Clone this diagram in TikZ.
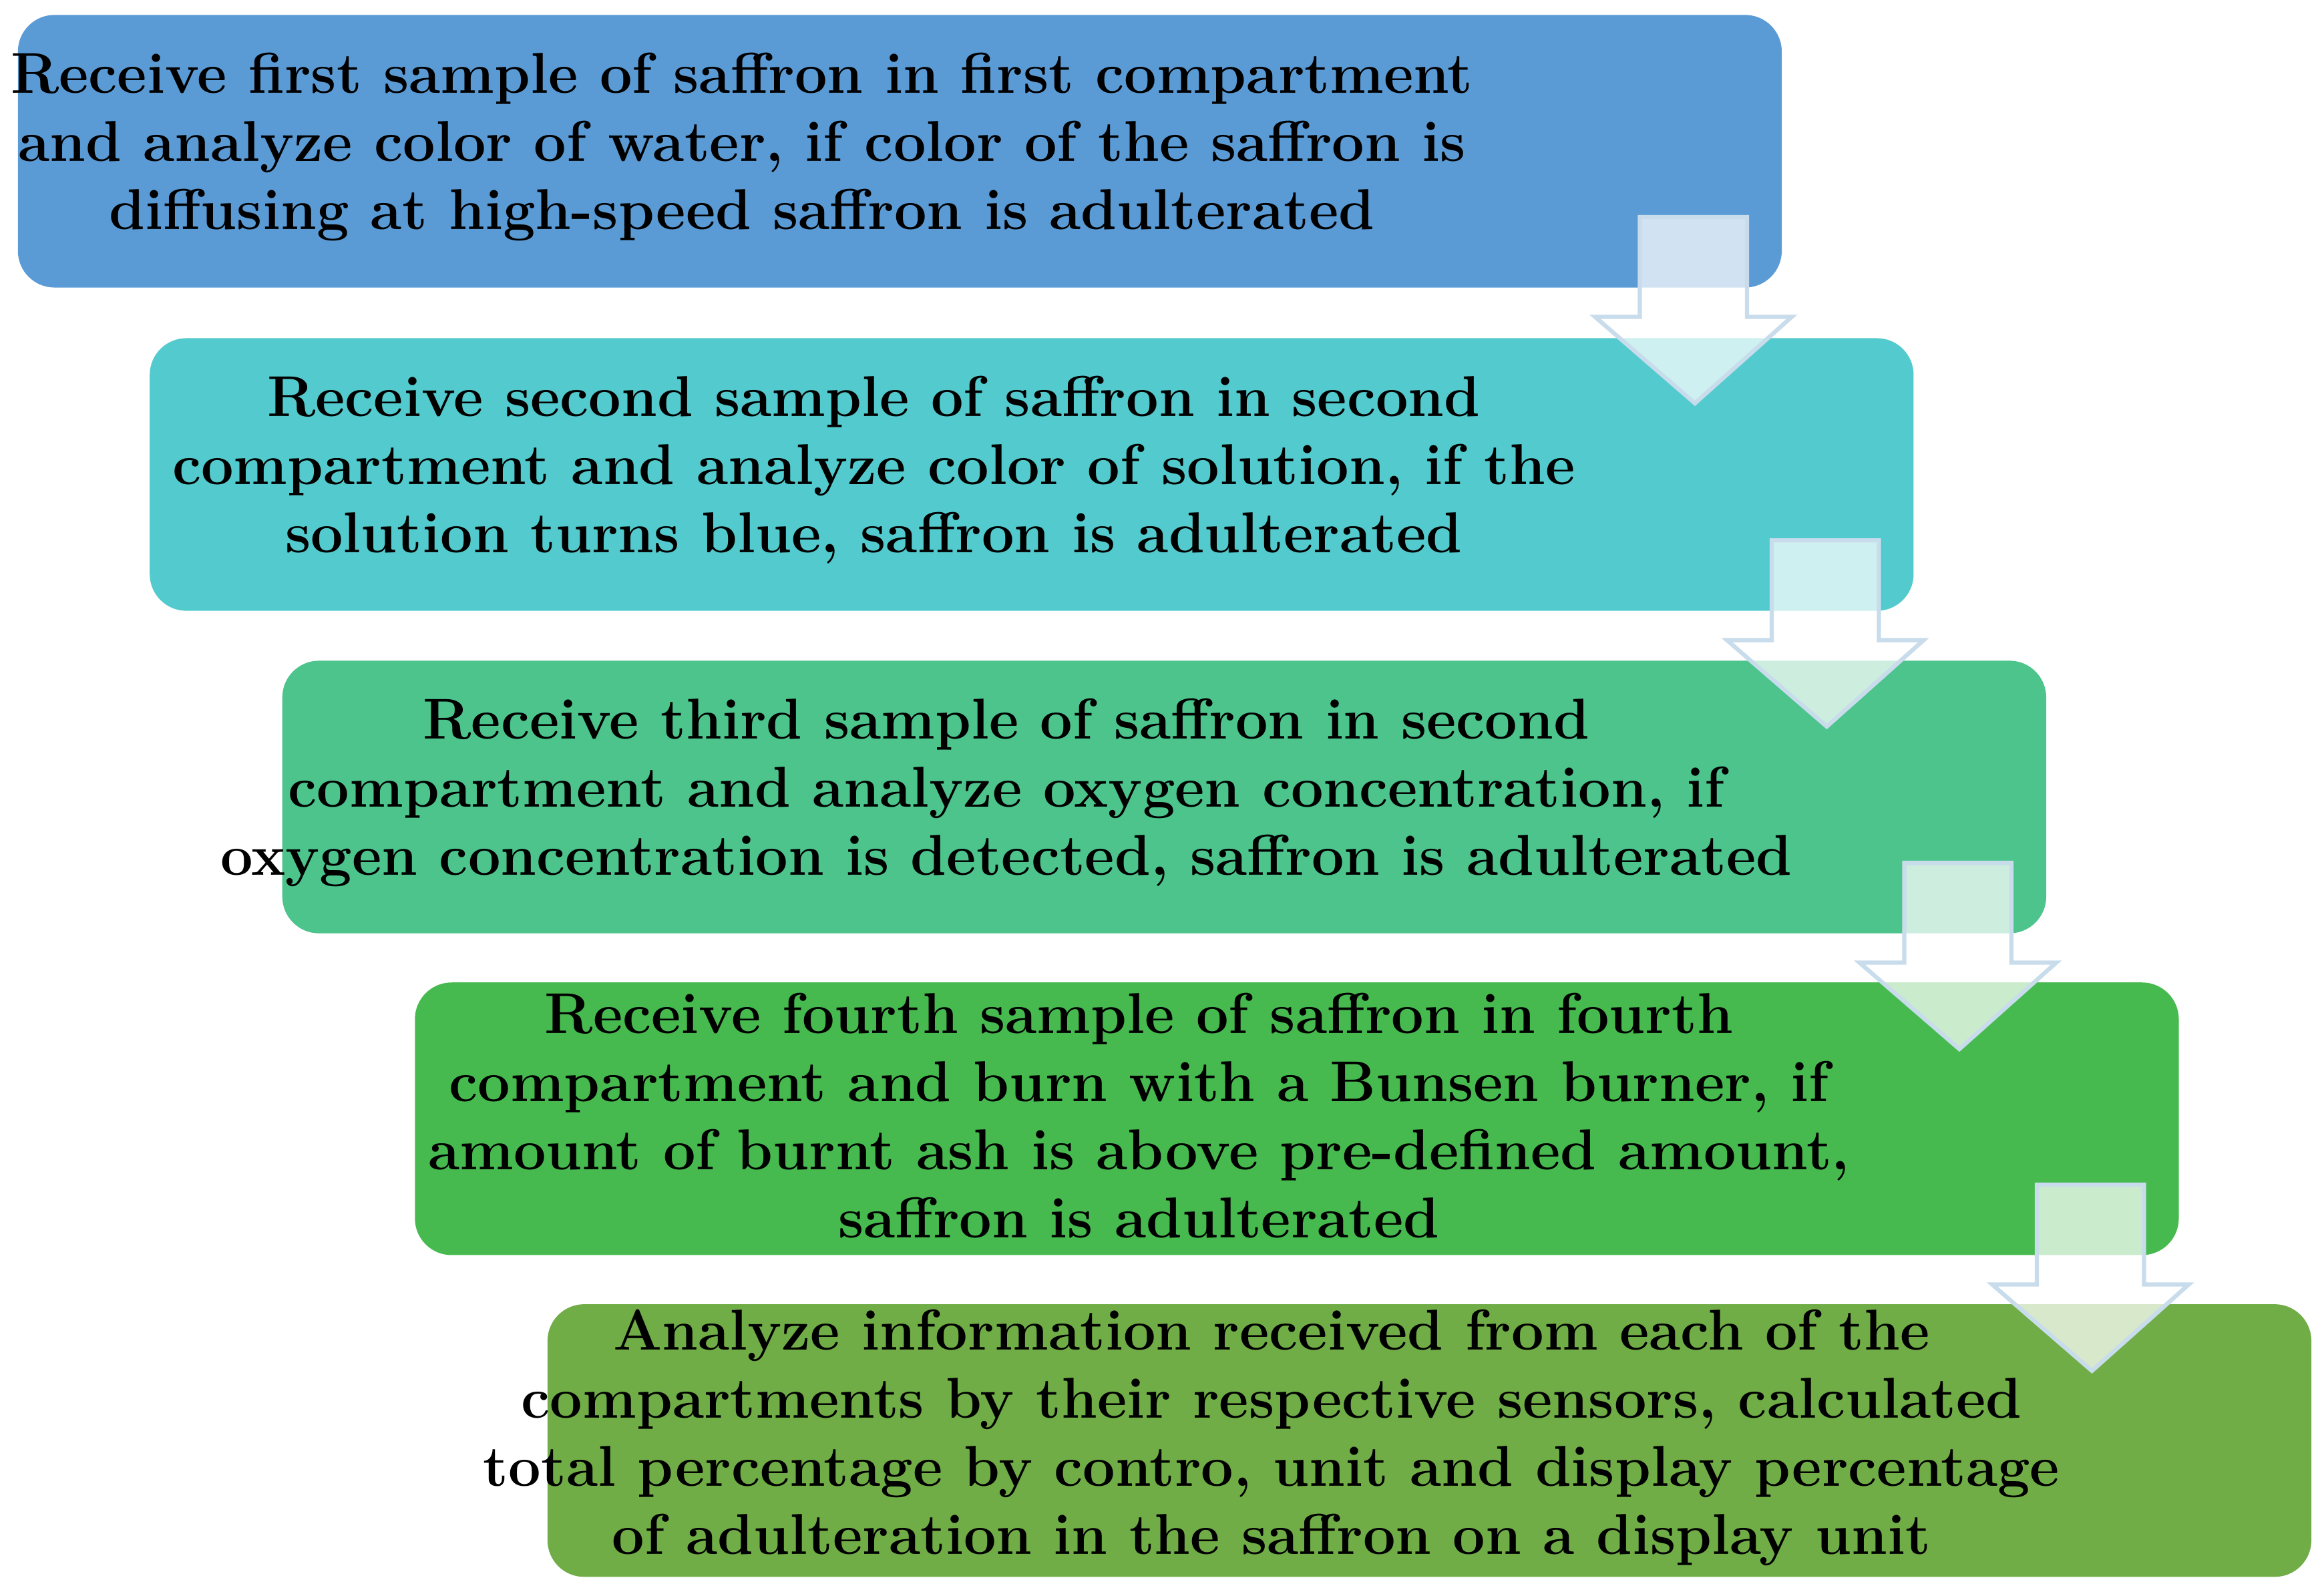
\documentclass[tikz,border=0pt]{standalone}
\usetikzlibrary{calc}

\begin{document}
\begin{tikzpicture}
    \definecolor{S1}{HTML}{5B9BD5}
    \definecolor{S2}{HTML}{53CACD}
    \definecolor{S3}{HTML}{4CC48C}
    \definecolor{S4}{HTML}{47BA4F}
    \definecolor{S5}{HTML}{70AD47}
    \definecolor{Edge}{HTML}{C8DCEC}

    \tikzset{
        stage/.style={draw=none, rounded corners=7pt, minimum width=11.84cm, minimum height=1.83cm, inner sep=0pt},
        stagetext/.style={align=center, font=\fontsize{11}{13}\selectfont\bfseries, inner sep=0pt},
        flow/.style={fill=white, fill opacity=0.72, draw=Edge, line width=0.8pt}
    }

    \useasboundingbox (0,0) rectangle (15.6,-10.7);

    % stages
    \node[stage, fill=S1] (stage1) at (6.04,-1.015) {};
    \node[stage, fill=S2] (stage2) at (6.925,-3.185) {};
    \node[stage, fill=S3] (stage3) at (7.815,-5.35) {};
    \node[stage, fill=S4] (stage4) at (8.705,-7.51) {};
    \node[stage, fill=S5] (stage5) at (9.595,-9.67) {};

    \node[stagetext] (text1) at ($(stage1.center)+(-1.06,0.03)$) {Receive first sample of saffron in first compartment\\and analyze color of water, if color of the saffron is\\diffusing at high-speed saffron is adulterated};
    \node[stagetext] (text2) at ($(stage2.center)+(-1.06,0.03)$) {Receive second sample of saffron in second\\compartment and analyze color of solution, if the\\solution turns blue, saffron is adulterated};
    \node[stagetext] (text3) at ($(stage3.center)+(-1.06,0.03)$) {Receive third sample of saffron in second\\compartment and analyze oxygen concentration, if\\oxygen concentration is detected, saffron is adulterated};
    \node[stagetext] (text4) at ($(stage4.center)+(-1.06,0.02)$) {Receive fourth sample of saffron in fourth\\compartment and burn with a Bunsen burner, if\\amount of burnt ash is above pre-defined amount,\\saffron is adulterated};
    \node[stagetext] (text5) at ($(stage5.center)+(-1.06,0.02)$) {Analyze information received from each of the\\compartments by their respective sensors, calculated\\total percentage by contro, unit and display percentage\\of adulteration in the saffron on a display unit};

    % arrows between the stages
    \foreach \k in {1,...,4} {
        \coordinate (tip\k) at ($(stage\k.south east)+(-0.59,-0.77)$);
        \draw[flow] ($(tip\k)+(-0.37,1.25)$) -- ($(tip\k)+(0.35,1.25)$) -- ($(tip\k)+(0.35,0.58)$)
            -- ($(tip\k)+(0.65,0.58)$) -- (tip\k) -- ($(tip\k)+(-0.67,0.58)$)
            -- ($(tip\k)+(-0.37,0.58)$) -- cycle;
    }

\end{tikzpicture}
\end{document}
